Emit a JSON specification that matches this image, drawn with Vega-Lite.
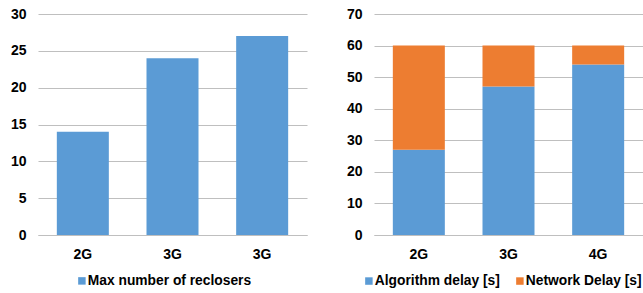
{
  "$schema": "https://vega.github.io/schema/vega-lite/v6.json",
  "padding": {"left": 10, "top": 7, "right": 0, "bottom": 0},
  "bounds": "flush",
  "spacing": 67,
  "config": {
    "font": "Liberation Sans",
    "view": {"stroke": null},
    "axis": {
      "labelFont": "Liberation Sans",
      "labelFontWeight": "bold",
      "labelFontSize": 14,
      "labelColor": "#000000",
      "ticks": false,
      "title": null,
      "gridColor": "#BFBFBF",
      "domainColor": "#BFBFBF"
    },
    "legend": {
      "orient": "none",
      "direction": "horizontal",
      "title": null,
      "symbolType": "square",
      "symbolSize": 56,
      "symbolStrokeWidth": 0,
      "labelFont": "Liberation Sans",
      "labelFontWeight": "bold",
      "labelFontSize": 13.8,
      "labelColor": "#000000",
      "labelLimit": 300,
      "labelOffset": -1,
      "columnPadding": 13
    }
  },
  "resolve": {"scale": {"color": "independent"}, "legend": {"color": "independent"}},
  "hconcat": [
    {
      "width": 269,
      "height": 221,
      "data": {
        "values": [
          {"network": "2G", "series": "Max number of reclosers", "value": 14},
          {"network": "3G", "series": "Max number of reclosers", "value": 24},
          {"network": "3G ", "series": "Max number of reclosers", "value": 27}
        ]
      },
      "mark": {"type": "bar"},
      "encoding": {
        "x": {
          "field": "network",
          "type": "nominal",
          "sort": null,
          "scale": {"paddingInner": 0.42, "paddingOuter": 0.21},
          "axis": {"labelAngle": 0, "labelPadding": 12, "labelExpr": "trim(datum.label)"}
        },
        "y": {
          "field": "value",
          "type": "quantitative",
          "scale": {"domain": [0, 30]},
          "axis": {"values": [0, 5, 10, 15, 20, 25, 30], "domain": false, "labelPadding": 12}
        },
        "color": {
          "field": "series",
          "type": "nominal",
          "scale": {"range": ["#5B9BD5"]},
          "legend": {"orient": "none", "legendX": 37, "legendY": 260}
        }
      }
    },
    {
      "width": 269,
      "height": 221,
      "data": {
        "values": [
          {"network": "2G", "series": "Algorithm delay [s]", "delay": 27},
          {"network": "2G", "series": "Network Delay [s]", "delay": 33},
          {"network": "3G", "series": "Algorithm delay [s]", "delay": 47},
          {"network": "3G", "series": "Network Delay [s]", "delay": 13},
          {"network": "4G", "series": "Algorithm delay [s]", "delay": 54},
          {"network": "4G", "series": "Network Delay [s]", "delay": 6}
        ]
      },
      "mark": {"type": "bar"},
      "encoding": {
        "x": {
          "field": "network",
          "type": "nominal",
          "sort": null,
          "scale": {"paddingInner": 0.42, "paddingOuter": 0.21},
          "axis": {"labelAngle": 0, "labelPadding": 12}
        },
        "y": {
          "field": "delay",
          "type": "quantitative",
          "stack": "zero",
          "scale": {"domain": [0, 70]},
          "axis": {"values": [0, 10, 20, 30, 40, 50, 60, 70], "domain": false, "labelPadding": 12}
        },
        "color": {
          "field": "series",
          "type": "nominal",
          "scale": {"domain": ["Algorithm delay [s]", "Network Delay [s]"], "range": ["#5B9BD5", "#ED7D31"]},
          "legend": {"orient": "none", "legendX": -12, "legendY": 260}
        },
        "order": {"field": "series", "sort": "ascending"}
      }
    }
  ]
}
